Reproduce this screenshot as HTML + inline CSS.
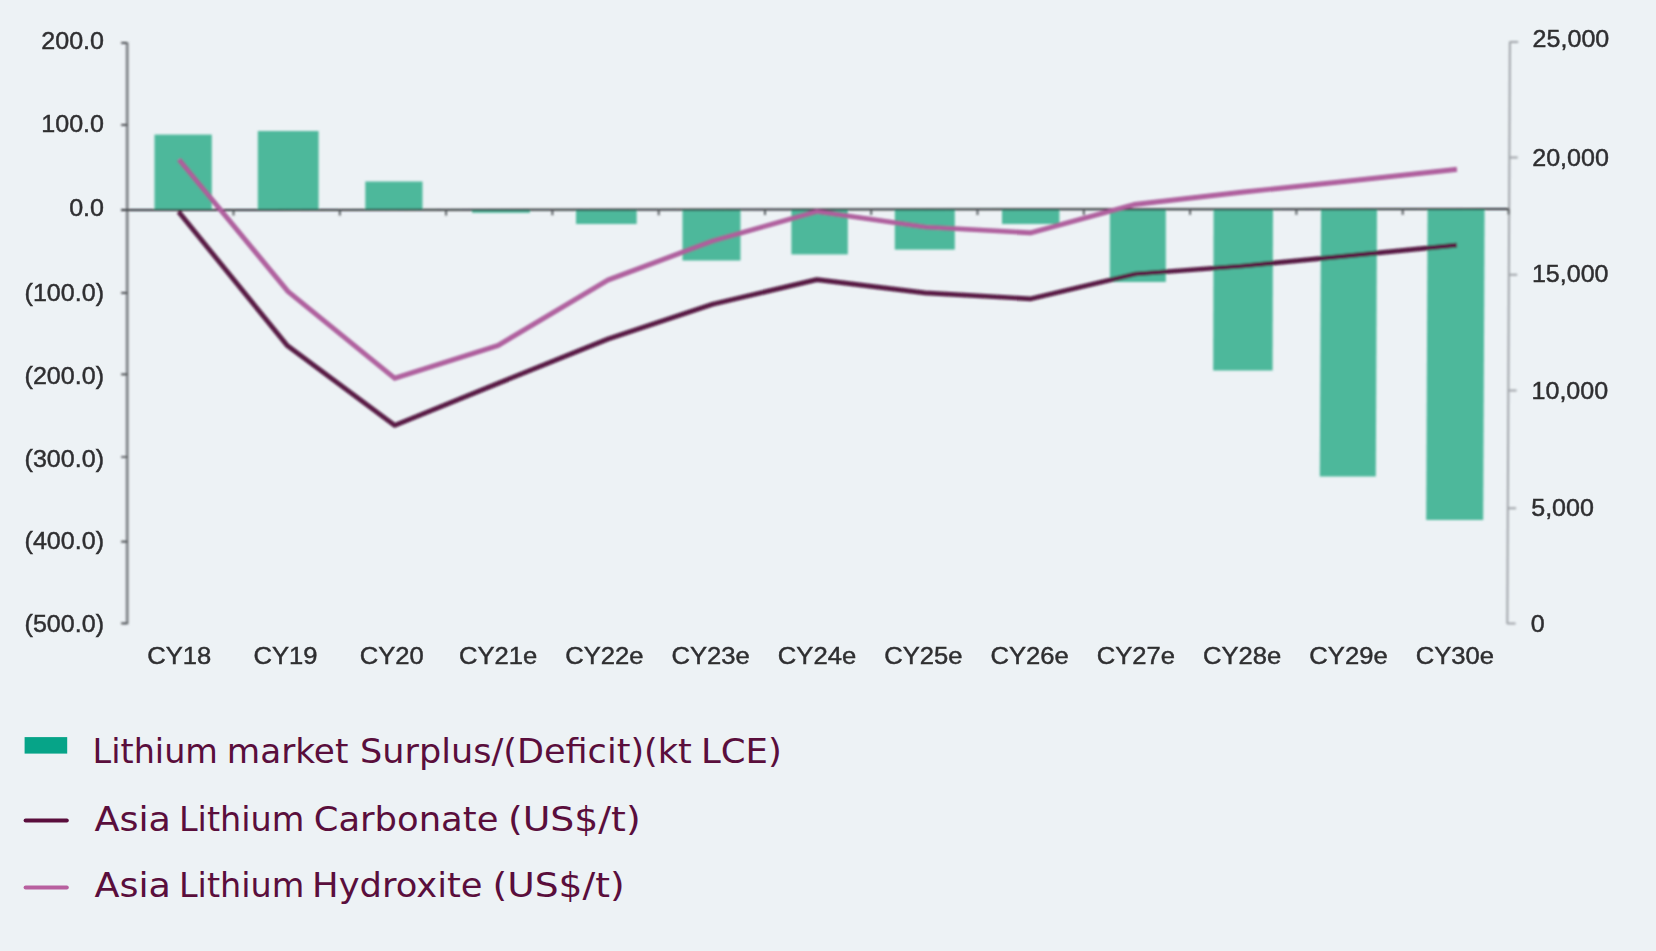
<!DOCTYPE html>
<html lang="en"><head><meta charset="utf-8">
<style>
html,body{margin:0;padding:0;background:#edf2f5;}
body{width:1656px;height:951px;overflow:hidden;font-family:"Liberation Sans",Arial,sans-serif;}
svg{display:block;}
.ax{font-family:"Liberation Sans",Arial,sans-serif;font-size:24px;fill:#2e2e30;stroke:#2e2e30;stroke-width:0.45px;}
.lg{font-family:"DejaVu Sans","Liberation Sans",sans-serif;font-size:33px;fill:#5a0e3c;}
</style></head><body>
<svg width="1656" height="951" viewBox="0 0 1656 951">
<defs><filter id="soft" x="-2%" y="-2%" width="104%" height="104%"><feGaussianBlur stdDeviation="0.95"/></filter><filter id="softt" x="-2%" y="-2%" width="104%" height="104%"><feGaussianBlur stdDeviation="0.7"/></filter></defs>
<rect x="0" y="0" width="1656" height="951" fill="#edf2f5"/>
<g filter="url(#soft)">
<g fill="#4db89b">
<rect x="154.5" y="134.6" width="57.3" height="75.4"/>
<rect x="257.8" y="131.0" width="60.8" height="79.0"/>
<rect x="365.3" y="181.5" width="57.2" height="28.5"/>
<rect x="472.0" y="210.0" width="58.0" height="2.8"/>
<rect x="576.0" y="210.0" width="60.7" height="14.0"/>
<rect x="682.5" y="210.0" width="58.0" height="50.5"/>
<rect x="791.4" y="210.0" width="56.4" height="44.4"/>
<rect x="894.8" y="210.0" width="60.0" height="39.6"/>
<rect x="1002.0" y="210.0" width="57.4" height="14.0"/>
<rect x="1109.9" y="210.0" width="55.9" height="72.0"/>
<polygon points="1213.6,209.2 1273.0,209.2 1272.6,370.4 1213.2,370.4"/>
<polygon points="1321.0,209.1 1377.0,209.1 1375.8,476.6 1319.8,476.6"/>
<polygon points="1427.6,209.1 1484.6,209.1 1483.2,519.9 1426.2,519.9"/>
</g>
<path d="M127.2 42.4 V624.3" stroke="#7d8185" stroke-width="2.8" fill="none"/>
<g stroke="#33363a" stroke-width="1.7" fill="none">
<path d="M121.2 42.9 H127.2 M121.2 124.9 H127.2 M121.2 209.9 H127.2 M121.2 292.8 H127.2 M121.2 374.3 H127.2 M121.2 457.0 H127.2 M121.2 541.6 H127.2 M121.2 623.4 H127.2"/>
</g>
<g stroke="#a0a4a9" stroke-width="2.0" fill="none">
<path d="M1509.9 41.5 L1507.3 624.0"/>
<path d="M1509.9 41.9 H1518.2 M1509.4 157.6 H1517.7 M1508.9 274.8 H1517.2 M1508.3 390.6 H1516.6 M1507.8 508.2 H1516.1 M1507.3 623.5 H1515.6"/>
</g>
<path d="M121.2 210.0 L1509.0 209.0" stroke="#2b2e31" stroke-width="2.0" fill="none"/>
<path d="M233.5 209.9 V215.5 M339.8 209.8 V215.4 M446.1 209.8 V215.4 M552.4 209.7 V215.3 M658.7 209.6 V215.2 M765.0 209.5 V215.1 M871.2 209.5 V215.1 M977.5 209.4 V215.0 M1083.8 209.3 V214.9 M1190.1 209.2 V214.8 M1296.4 209.2 V214.8 M1402.7 209.1 V214.7 M1508.6 209.0 V214.6" stroke="#505458" stroke-width="1.9" fill="none"/>
<g fill="none" stroke-linejoin="round" stroke-linecap="butt">
<polyline points="178.6,211.8 287.0,345.3 394.7,425.4 499.0,383.0 608.0,339.0 712.5,304.3 816.8,279.6 925.0,292.8 1031.0,298.8 1135.4,274.0 1242.6,266.0 1350.0,255.7 1456.9,245.2" stroke="#450d33" stroke-width="4.7"/>
<polyline points="178.6,211.8 287.0,345.3 394.7,425.4 499.0,383.0 608.0,339.0 712.5,304.3 816.8,279.6 925.0,292.8 1031.0,298.8 1135.4,274.0 1242.6,266.0 1350.0,255.7 1456.9,245.2" stroke="#6b2453" stroke-width="1.4"/>
<polyline points="178.9,159.5 288.0,291.5 394.7,378.3 498.0,345.4 608.0,280.0 712.5,241.0 816.8,211.5 925.2,227.0 1031.0,232.8 1135.4,204.3 1242.6,192.2 1350.0,180.8 1456.9,169.4" stroke="#9f468d" stroke-width="4.7"/>
<polyline points="178.9,159.5 288.0,291.5 394.7,378.3 498.0,345.4 608.0,280.0 712.5,241.0 816.8,211.5 925.2,227.0 1031.0,232.8 1135.4,204.3 1242.6,192.2 1350.0,180.8 1456.9,169.4" stroke="#bf72ac" stroke-width="1.5"/>
</g>
</g>
<g class="ax" filter="url(#softt)">
<text transform="translate(104.0 49.3) scale(1.045 1)" text-anchor="end">200.0</text>
<text transform="translate(104.0 132.4) scale(1.045 1)" text-anchor="end">100.0</text>
<text transform="translate(104.0 216.2) scale(1.045 1)" text-anchor="end">0.0</text>
<text transform="translate(104.0 300.9) scale(1.045 1)" text-anchor="end">(100.0)</text>
<text transform="translate(104.0 383.5) scale(1.045 1)" text-anchor="end">(200.0)</text>
<text transform="translate(104.0 466.6) scale(1.045 1)" text-anchor="end">(300.0)</text>
<text transform="translate(104.0 548.9) scale(1.045 1)" text-anchor="end">(400.0)</text>
<text transform="translate(104.0 632.4) scale(1.045 1)" text-anchor="end">(500.0)</text>
<text transform="translate(1532.6 47.4) scale(1.045 1)">25,000</text>
<text transform="translate(1532.2 166.2) scale(1.045 1)">20,000</text>
<text transform="translate(1531.9 281.6) scale(1.045 1)">15,000</text>
<text transform="translate(1531.5 398.5) scale(1.045 1)">10,000</text>
<text transform="translate(1531.2 516.2) scale(1.045 1)">5,000</text>
<text transform="translate(1530.8 632.0) scale(1.045 1)">0</text>
<text transform="translate(179.2 663.7) scale(1.045 1)" text-anchor="middle" style="font-size:24.5px">CY18</text>
<text transform="translate(285.5 663.7) scale(1.045 1)" text-anchor="middle" style="font-size:24.5px">CY19</text>
<text transform="translate(391.8 663.7) scale(1.045 1)" text-anchor="middle" style="font-size:24.5px">CY20</text>
<text transform="translate(498.1 663.7) scale(1.045 1)" text-anchor="middle" style="font-size:24.5px">CY21e</text>
<text transform="translate(604.4 663.7) scale(1.045 1)" text-anchor="middle" style="font-size:24.5px">CY22e</text>
<text transform="translate(710.7 663.7) scale(1.045 1)" text-anchor="middle" style="font-size:24.5px">CY23e</text>
<text transform="translate(817.0 663.7) scale(1.045 1)" text-anchor="middle" style="font-size:24.5px">CY24e</text>
<text transform="translate(923.3 663.7) scale(1.045 1)" text-anchor="middle" style="font-size:24.5px">CY25e</text>
<text transform="translate(1029.6 663.7) scale(1.045 1)" text-anchor="middle" style="font-size:24.5px">CY26e</text>
<text transform="translate(1135.9 663.7) scale(1.045 1)" text-anchor="middle" style="font-size:24.5px">CY27e</text>
<text transform="translate(1242.2 663.7) scale(1.045 1)" text-anchor="middle" style="font-size:24.5px">CY28e</text>
<text transform="translate(1348.5 663.7) scale(1.045 1)" text-anchor="middle" style="font-size:24.5px">CY29e</text>
<text transform="translate(1454.8 663.7) scale(1.045 1)" text-anchor="middle" style="font-size:24.5px">CY30e</text>
</g>
<rect x="24.6" y="737.1" width="42.6" height="16.5" fill="#06a488"/>
<path d="M25.6 820.6 H66.8" stroke="#5a0e3c" stroke-width="4" stroke-linecap="round" fill="none"/>
<path d="M25.6 887.5 H66.8" stroke="#b8609f" stroke-width="4" stroke-linecap="round" fill="none"/>
<g class="lg">
<text y="763.1" xml:space="preserve"><tspan x="92.62" textLength="125.29" lengthAdjust="spacingAndGlyphs">Lithium</tspan> <tspan x="226.84" textLength="121.55" lengthAdjust="spacingAndGlyphs">market</tspan> <tspan x="360.00" textLength="331.83" lengthAdjust="spacingAndGlyphs">Surplus/(Deficit)(kt</tspan> <tspan x="701.04" textLength="80.86" lengthAdjust="spacingAndGlyphs">LCE)</tspan></text>
<text y="830.5" xml:space="preserve"><tspan x="94.46" textLength="76.51" lengthAdjust="spacingAndGlyphs">Asia</tspan> <tspan x="178.98" textLength="125.28" lengthAdjust="spacingAndGlyphs">Lithium</tspan> <tspan x="313.72" textLength="184.69" lengthAdjust="spacingAndGlyphs">Carbonate</tspan> <tspan x="507.90" textLength="132.77" lengthAdjust="spacingAndGlyphs">(US$/t)</tspan></text>
<text y="897.4" xml:space="preserve"><tspan x="94.46" textLength="76.51" lengthAdjust="spacingAndGlyphs">Asia</tspan> <tspan x="178.98" textLength="125.28" lengthAdjust="spacingAndGlyphs">Lithium</tspan> <tspan x="312.12" textLength="170.47" lengthAdjust="spacingAndGlyphs">Hydroxite</tspan> <tspan x="492.48" textLength="132.18" lengthAdjust="spacingAndGlyphs">(US$/t)</tspan></text>
</g>
</svg>
</body></html>
